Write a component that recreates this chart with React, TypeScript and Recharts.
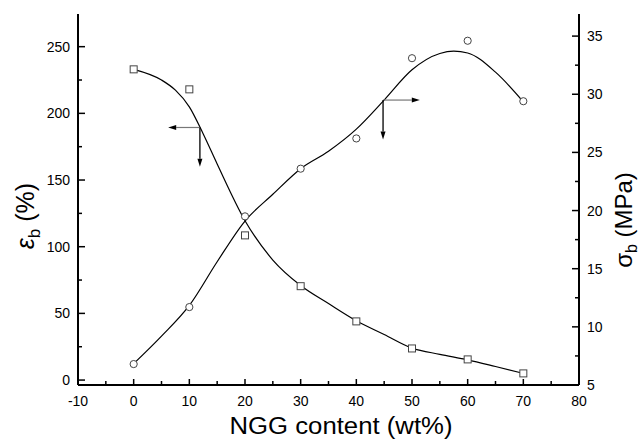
import { ComposedChart, Line, Scatter, XAxis, YAxis, ReferenceLine } from "recharts";

// measured points
const sampleX = [0, 10, 20, 30, 40, 50, 60, 70];
const elongation = [233, 218, 108.5, 70.4, 44, 23.7, 15.5, 5];
const strength = [6.8, 11.7, 19.5, 23.6, 26.2, 33.1, 34.6, 29.4];

// smoothed fit curves
const epsFitX = [0, 5, 7.5, 10, 12.5, 15, 20, 25, 30, 35, 40, 45, 50, 55, 60, 65, 70];
const elongationFit = [233, 225, 217.4, 204.9, 184.5, 162, 119.5, 90, 70.9, 57.4, 44.5, 34.2, 24, 19.3, 15.2, 10.2, 5];
const sigFitX = [0, 5, 10, 15, 20, 25, 30, 35, 40, 45, 50, 55, 57.5, 60, 65, 70];
const strengthFit = [6.83, 9.2, 11.84, 15.6, 19.1, 21.4, 23.6, 25.1, 27.0, 29.5, 32.1, 33.5, 33.7, 33.55, 31.9, 29.35];

const xTicks = [-10, -5, 0, 5, 10, 15, 20, 25, 30, 35, 40, 45, 50, 55, 60, 65, 70, 75, 80];
const leftTicks = [0, 25, 50, 75, 100, 125, 150, 175, 200, 225, 250];
const rightTicks = [5, 7.5, 10, 12.5, 15, 17.5, 20, 22.5, 25, 27.5, 30, 32.5, 35];

// arrow annotations: [x0, y0, xEnd, yEnd]
const leftArrow = [11.9, 189.4, 6.2, 160];
const rightArrow = [44.8, 29.5, 51.4, 26.1];

const FONT = '"Liberation Sans", Arial, sans-serif';

const squares = sampleX.map((x, i) => ({ x, y: elongation[i] }));
const circles = sampleX.map((x, i) => ({ x, y: strength[i] }));
const epsCurve = epsFitX.map((x, i) => ({ x, y: elongationFit[i] }));
const sigCurve = sigFitX.map((x, i) => ({ x, y: strengthFit[i] }));

function XTick({ x, y, payload }: any) {
  const major = payload.value % 10 === 0;
  return (
    <g>
      <line x1={x} x2={x} y1={y} y2={y - (major ? 6 : 4)} stroke="#000" strokeWidth={1.5} />
      {major && (
        <text x={x} y={y + 21} textAnchor="middle" fontSize={14} fontFamily={FONT} fill="#000">
          {payload.value}
        </text>
      )}
    </g>
  );
}

function LeftTick({ x, y, payload }: any) {
  const major = payload.value % 50 === 0;
  return (
    <g>
      <line x1={x} x2={x + (major ? 7 : 4)} y1={y} y2={y} stroke="#000" strokeWidth={1.5} />
      {major && (
        <text x={x - 8} y={y + 5} textAnchor="end" fontSize={14} fontFamily={FONT} fill="#000">
          {payload.value}
        </text>
      )}
    </g>
  );
}

function RightTick({ x, y, payload }: any) {
  const major = payload.value % 5 === 0;
  return (
    <g>
      <line x1={x} x2={x - (major ? 7 : 4)} y1={y} y2={y} stroke="#000" strokeWidth={1.5} />
      {major && (
        <text x={x + 8} y={y + 5} textAnchor="start" fontSize={14} fontFamily={FONT} fill="#000">
          {payload.value}
        </text>
      )}
    </g>
  );
}

function Square({ cx, cy }: any) {
  return <rect x={cx - 3.5} y={cy - 3.5} width={7} height={7} fill="#fff" stroke="#444" strokeWidth={1} />;
}

function Circle({ cx, cy }: any) {
  return <circle cx={cx} cy={cy} r={3.6} fill="#fff" stroke="#444" strokeWidth={1} />;
}

function Arrow(props: any) {
  const { x1, y1, x2, y2, stroke, strokeWidth } = props;
  const dx = x2 - x1;
  const dy = y2 - y1;
  const len = Math.hypot(dx, dy) || 1;
  const ux = dx / len;
  const uy = dy / len;
  const hx = x2 - ux * 8;
  const hy = y2 - uy * 8;
  return (
    <g>
      <line x1={x1} y1={y1} x2={hx} y2={hy} stroke={stroke} strokeWidth={strokeWidth} />
      <polygon
        points={`${x2},${y2} ${hx - uy * 2.5},${hy + ux * 2.5} ${hx + uy * 2.5},${hy - ux * 2.5}`}
        fill="#000"
      />
    </g>
  );
}

export default function App() {
  return (
    <div style={{ position: "absolute", left: 0, top: 0 }}>
      <ComposedChart width={642} height={441} margin={{ top: 14, right: 0, bottom: 0, left: 0 }}>
        <XAxis
          xAxisId="top"
          orientation="top"
          type="number"
          dataKey="x"
          domain={[-10, 80]}
          height={0}
          tick={false}
          tickLine={false}
          axisLine={{ stroke: "#000", strokeWidth: 2 }}
        />
        <XAxis
          type="number"
          dataKey="x"
          domain={[-10, 80]}
          ticks={xTicks}
          interval={0}
          height={56}
          tickSize={0}
          tickMargin={0}
          tickLine={false}
          tick={<XTick />}
          axisLine={{ stroke: "#000", strokeWidth: 2 }}
          label={() => (
            <text x={341} y={434} textAnchor="middle" fontSize={23} fontFamily={FONT} fill="#000" textLength={223} lengthAdjust="spacingAndGlyphs">
              NGG content (wt%)
            </text>
          )}
        />
        <YAxis
          yAxisId="left"
          type="number"
          domain={[-3.7, 274.5]}
          ticks={leftTicks}
          interval={0}
          width={78}
          tickSize={0}
          tickMargin={0}
          tickLine={false}
          tick={<LeftTick />}
          allowDataOverflow
          axisLine={{ stroke: "#000", strokeWidth: 2 }}
          label={() => (
            <text x={34} y={216} transform="rotate(-90, 34, 216)" textAnchor="middle" fontSize={25} fontFamily={FONT} fill="#000">
              <tspan fontStyle="italic">ε</tspan>
              <tspan dy={6} fontSize={17}>b</tspan>
              <tspan dy={-6}> (%)</tspan>
            </text>
          )}
        />
        <YAxis
          yAxisId="right"
          orientation="right"
          type="number"
          domain={[5, 36.9]}
          ticks={rightTicks}
          interval={0}
          width={63}
          tickSize={0}
          tickMargin={0}
          tickLine={false}
          tick={<RightTick />}
          allowDataOverflow
          axisLine={{ stroke: "#000", strokeWidth: 2 }}
          label={() => (
            <text x={632} y={220} transform="rotate(-90, 632, 220)" textAnchor="middle" fontSize={24} fontFamily={FONT} fill="#000">
              <tspan>σ</tspan>
              <tspan dy={5} fontSize={16}>b</tspan>
              <tspan dy={-5}> (MPa)</tspan>
            </text>
          )}
        />
        <Line
          yAxisId="left"
          data={epsCurve}
          dataKey="y"
          type="monotone"
          stroke="#000"
          strokeWidth={1.2}
          dot={false}
          activeDot={false}
          isAnimationActive={false}
        />
        <Line
          yAxisId="right"
          data={sigCurve}
          dataKey="y"
          type="monotone"
          stroke="#000"
          strokeWidth={1.2}
          dot={false}
          activeDot={false}
          isAnimationActive={false}
        />
        <Scatter yAxisId="left" data={squares} dataKey="y" shape={<Square />} isAnimationActive={false} />
        <Scatter yAxisId="right" data={circles} dataKey="y" shape={<Circle />} isAnimationActive={false} />
        <ReferenceLine
          yAxisId="left"
          segment={[{ x: leftArrow[0], y: leftArrow[1] }, { x: leftArrow[2], y: leftArrow[1] }]}
          stroke="#777"
          strokeWidth={1.2}
          shape={Arrow}
        />
        <ReferenceLine
          yAxisId="left"
          segment={[{ x: leftArrow[0], y: leftArrow[1] }, { x: leftArrow[0], y: leftArrow[3] }]}
          stroke="#000"
          strokeWidth={1.3}
          shape={Arrow}
        />
        <ReferenceLine
          yAxisId="right"
          segment={[{ x: rightArrow[0], y: rightArrow[1] }, { x: rightArrow[2], y: rightArrow[1] }]}
          stroke="#777"
          strokeWidth={1.2}
          shape={Arrow}
        />
        <ReferenceLine
          yAxisId="right"
          segment={[{ x: rightArrow[0], y: rightArrow[1] }, { x: rightArrow[0], y: rightArrow[3] }]}
          stroke="#000"
          strokeWidth={1.3}
          shape={Arrow}
        />
      </ComposedChart>
    </div>
  );
}
